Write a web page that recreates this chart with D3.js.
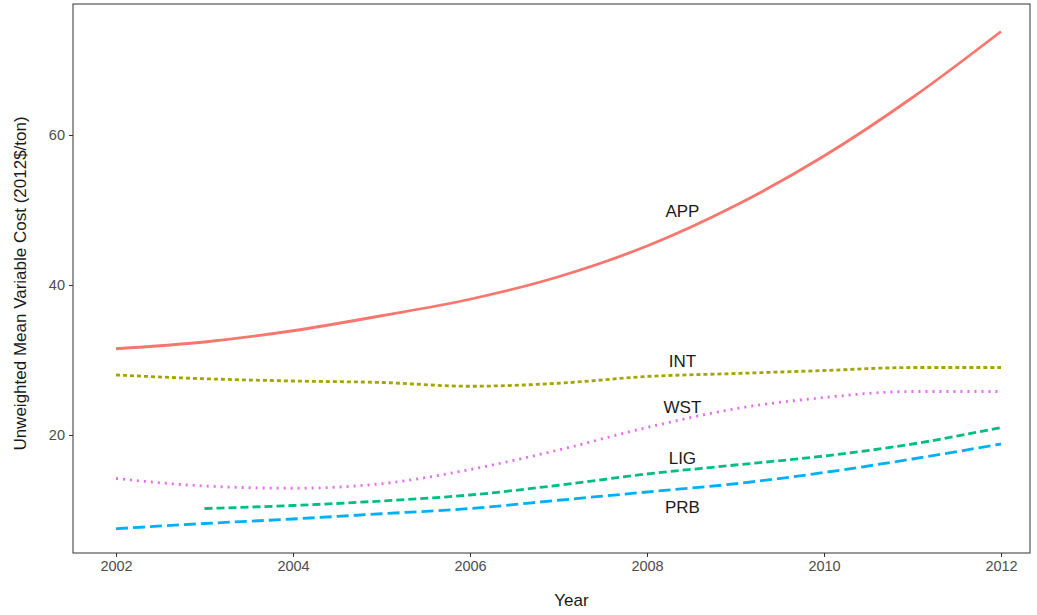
<!DOCTYPE html><html><head><meta charset="utf-8">
<script src="https://cdn.jsdelivr.net/npm/d3@7"></script>
<style>body{margin:0;background:#fff}text{font-family:Arial,"Liberation Sans",sans-serif}</style></head><body>
<svg id="c" width="1037" height="615"></svg>
<script>
const years=[2002,2003,2004,2005,2006,2007,2008,2009,2010,2011,2012];
const APP=[31.5,32.4,33.9,35.9,38.1,41.1,45.2,50.6,57.2,65.0,73.8];
const INT=[28.0,27.5,27.2,27.0,26.5,26.9,27.8,28.2,28.6,29.0,29.0];
const WST=[14.2,13.2,12.9,13.5,15.4,18.0,21.0,23.5,25.0,25.8,25.8];
const LIG=[null,10.2,10.6,11.2,12.0,13.3,14.8,16.0,17.2,18.8,21.0];
const PRB=[7.5,8.2,8.8,9.5,10.2,11.3,12.4,13.5,15.0,16.8,18.8];
const yTicks=[20,40,60], xTicks=[2002,2004,2006,2008,2010,2012];
const series=[
 {name:"APP",v:APP,c:"#F8766D",d:null,ly:49.9},
 {name:"INT",v:INT,c:"#A3A500",d:"4,3",ly:29.8},
 {name:"WST",v:WST,c:"#E76BF3",d:"2,5",ly:23.7},
 {name:"LIG",v:LIG,c:"#00BF7D",d:"8,4",ly:16.9},
 {name:"PRB",v:PRB,c:"#00B0F6",d:"12,5",ly:10.4}];
const svg=d3.select("#c");
const L=73,R=1030,T=4,B=553;
const x=d3.scaleLinear().domain([2002,2012]).range([116,1001]);
const y=d3.scaleLinear().domain([0,60]).range([585,135]);
svg.append("rect").attr("x",L).attr("y",T).attr("width",R-L).attr("height",B-T).attr("fill","none").attr("stroke","#333").attr("stroke-width",1);
const xa=svg.append("g").attr("transform",`translate(0,${B})`).call(d3.axisBottom(x).tickValues(xTicks).tickFormat(d3.format("d")).tickSize(4).tickPadding(4));
const ya=svg.append("g").attr("transform",`translate(${L},0)`).call(d3.axisLeft(y).tickValues(yTicks).tickSize(4).tickPadding(4));
[xa,ya].forEach(a=>{a.select(".domain").remove();a.selectAll("line").attr("stroke","#333");a.selectAll("text").attr("fill","#4d4d4d").style("font-size","14.5px");});
const line=d3.line().defined(d=>d[1]!=null).x(d=>x(d[0])).y(d=>y(d[1])).curve(d3.curveMonotoneX);
series.forEach(s=>{
 svg.append("path").attr("d",line(years.map((yr,i)=>[yr,s.v[i]]))).attr("fill","none").attr("stroke",s.c).attr("stroke-width",2.8).attr("stroke-dasharray",s.d);
 svg.append("text").attr("x",x(2008.4)).attr("y",y(s.ly)).attr("text-anchor","middle").attr("dy","0.35em").style("font-size","17px").attr("fill","#1a1a1a").text(s.name);
});
svg.append("text").attr("x",(L+R)/2+20).attr("y",606).attr("text-anchor","middle").style("font-size","17px").attr("fill","#1a1a1a").text("Year");
svg.append("text").attr("transform",`translate(26,${(T+B)/2+5}) rotate(-90)`).attr("text-anchor","middle").style("font-size","17px").attr("fill","#1a1a1a").text("Unweighted Mean Variable Cost (2012$/ton)");
</script></body></html>
